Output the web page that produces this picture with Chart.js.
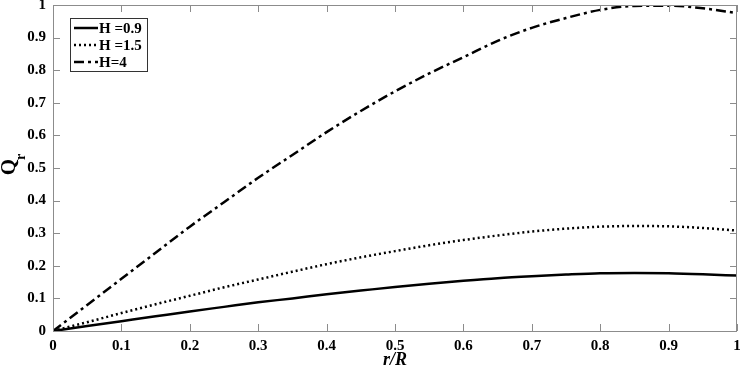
<!DOCTYPE html>
<html>
<head>
<meta charset="utf-8">
<script src="https://cdn.jsdelivr.net/npm/chart.js@4/dist/chart.umd.min.js"></script>
<style>
  html, body { margin: 0; padding: 0; background: #fff; }
  #wrap { width: 740px; height: 371px; position: relative; }
</style>
</head>
<body>
<div id="wrap"><canvas id="chart"></canvas></div>
<script>
const xValues = [0, 0.05, 0.1, 0.15, 0.2, 0.25, 0.3, 0.35, 0.4, 0.45, 0.5, 0.55, 0.6, 0.65, 0.7, 0.75, 0.8, 0.85, 0.9, 0.95, 1];
const h09 = [0, 0.015, 0.03, 0.045, 0.06, 0.074, 0.088, 0.1, 0.113, 0.124, 0.135, 0.145, 0.154, 0.162, 0.168, 0.173, 0.177, 0.178, 0.177, 0.174, 0.17];
const h15 = [0, 0.027, 0.055, 0.082, 0.108, 0.134, 0.158, 0.182, 0.205, 0.226, 0.245, 0.263, 0.279, 0.293, 0.305, 0.314, 0.32, 0.322, 0.321, 0.316, 0.308];
const h4 = [0, 0.08, 0.16, 0.24, 0.32, 0.395, 0.47, 0.54, 0.61, 0.675, 0.735, 0.79, 0.84, 0.89, 0.93, 0.96, 0.985, 0.997, 0.998, 0.99, 0.975];
const seriesLabels = ['H =0.9', 'H =1.5', 'H=4'];
const tickValues = [0, 0.1, 0.2, 0.3, 0.4, 0.5, 0.6, 0.7, 0.8, 0.9, 1];

const FONT = "'Liberation Serif', 'Times New Roman', serif";
const dashes = [[], [2, 3], [10, 4, 3, 4]];

const toPoints = (ys) => xValues.map((x, i) => ({ x: x, y: ys[i] }));

// box, inward ticks, y title and legend drawn on top of the chart area
const extras = {
  id: 'extras',
  afterDraw(chart) {
    const { ctx, chartArea: a, scales } = chart;
    ctx.save();
    ctx.strokeStyle = '#8c8c8c';
    ctx.lineWidth = 1;
    ctx.strokeRect(a.left + 0.5, a.top + 0.5, a.right - a.left - 1, a.bottom - a.top);
    ctx.beginPath();
    tickValues.forEach(v => {
      const px = Math.round(scales.x.getPixelForValue(v)) + 0.5;
      ctx.moveTo(px, a.bottom); ctx.lineTo(px, a.bottom - 7);
      ctx.moveTo(px, a.top); ctx.lineTo(px, a.top + 7);
      const py = Math.round(scales.y.getPixelForValue(v)) + 0.5;
      ctx.moveTo(a.left, py); ctx.lineTo(a.left + 7, py);
      ctx.moveTo(a.right, py); ctx.lineTo(a.right - 7, py);
    });
    ctx.stroke();

    // y axis title Q_r
    ctx.fillStyle = '#000';
    ctx.translate(10, 167);
    ctx.rotate(-Math.PI / 2);
    ctx.textBaseline = 'middle';
    ctx.textAlign = 'center';
    ctx.font = 'bold 21px ' + FONT;
    ctx.fillText('Q', 0, 0);
    ctx.font = 'bold 14px ' + FONT;
    ctx.fillText('r', 10, 11);
    ctx.setTransform(1, 0, 0, 1, 0, 0);

    // legend box
    const lx = 70, ly = 18, lw = 77, lh = 53;
    ctx.fillStyle = '#fff';
    ctx.fillRect(lx, ly, lw, lh);
    ctx.strokeStyle = '#333';
    ctx.strokeRect(lx + 0.5, ly + 0.5, lw, lh);
    ctx.font = 'bold 15px ' + FONT;
    ctx.textAlign = 'left';
    ctx.textBaseline = 'middle';
    seriesLabels.forEach((lab, i) => {
      const y = ly + 10 + i * 17;
      ctx.strokeStyle = '#000';
      ctx.lineWidth = 2.5;
      ctx.setLineDash(dashes[i]);
      ctx.beginPath();
      ctx.moveTo(lx + 4, y); ctx.lineTo(lx + 28, y);
      ctx.stroke();
      ctx.setLineDash([]);
      ctx.fillStyle = '#000';
      ctx.fillText(lab, lx + 29, y + 1);
    });
    ctx.restore();
  }
};

const datasets = [h09, h15, h4].map((ys, i) => ({
  label: seriesLabels[i],
  data: toPoints(ys),
  borderColor: '#000',
  borderWidth: 2.5,
  borderDash: dashes[i],
  pointRadius: 0,
  fill: false,
  cubicInterpolationMode: 'monotone'
}));

const tickFont = { family: FONT, size: 15, weight: 'bold' };

new Chart(document.getElementById('chart'), {
  type: 'line',
  data: { datasets: datasets },
  options: {
    responsive: true,
    maintainAspectRatio: false,
    animation: false,
    layout: { padding: { left: 0, right: 3, top: 5, bottom: 0 } },
    plugins: {
      legend: { display: false },
      tooltip: { enabled: false }
    },
    scales: {
      x: {
        type: 'linear',
        min: 0,
        max: 1,
        afterBuildTicks: (s) => { s.ticks = tickValues.map(v => ({ value: v })); },
        afterFit: (s) => { s.height = 40; s.paddingLeft = 0; s.paddingRight = 0; },
        grid: { display: false, drawTicks: false },
        border: { display: false },
        ticks: {
          font: tickFont,
          color: '#000',
          padding: 6,
          maxRotation: 0,
          callback: (v) => String(Number(v.toFixed(1)))
        },
        title: {
          display: true,
          text: 'r/R',
          color: '#000',
          font: { family: FONT, size: 18, weight: 'bold', style: 'italic' },
          padding: { top: 0, bottom: 0 }
        }
      },
      y: {
        type: 'linear',
        min: 0,
        max: 1,
        afterBuildTicks: (s) => { s.ticks = tickValues.map(v => ({ value: v })); },
        afterFit: (s) => { s.width = 53; s.paddingTop = 0; s.paddingBottom = 0; },
        grid: { display: false, drawTicks: false },
        border: { display: false },
        ticks: {
          font: tickFont,
          color: '#000',
          padding: 7,
          callback: (v) => String(Number(v.toFixed(1)))
        }
      }
    }
  },
  plugins: [extras]
});
</script>
</body>
</html>
